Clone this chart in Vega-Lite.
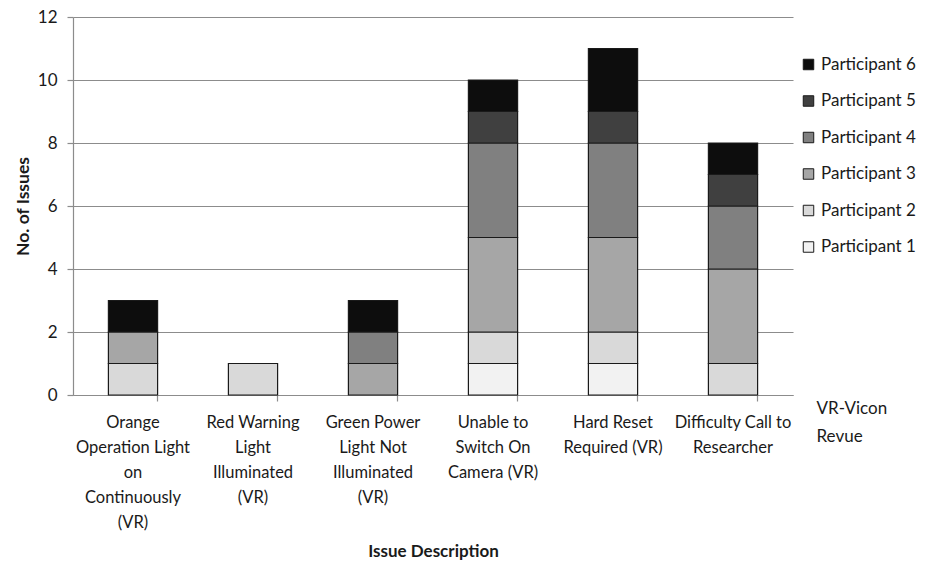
{
  "$schema": "https://vega.github.io/schema/vega-lite/v6.json",
  "autosize": {"type": "none"},
  "width": 720,
  "height": 378,
  "padding": {"left": 73, "top": 17, "right": 145, "bottom": 178},
  "background": "white",
  "config": {
    "font": "Lato",
    "view": {"stroke": null},
    "axis": {"labelColor": "#1a1a1a", "titleColor": "#1a1a1a", "labelFont": "Lato", "titleFont": "Lato"},
    "legend": {"labelFont": "Lato", "labelColor": "#1a1a1a"}
  },
  "data": {
    "values": [
      {"issue": "Orange|Operation Light|on|Continuously|(VR)", "participant": "Participant 2", "count": 1},
      {"issue": "Orange|Operation Light|on|Continuously|(VR)", "participant": "Participant 3", "count": 1},
      {"issue": "Orange|Operation Light|on|Continuously|(VR)", "participant": "Participant 6", "count": 1},
      {"issue": "Red Warning|Light|Illuminated|(VR)", "participant": "Participant 2", "count": 1},
      {"issue": "Green Power|Light Not|Illuminated|(VR)", "participant": "Participant 3", "count": 1},
      {"issue": "Green Power|Light Not|Illuminated|(VR)", "participant": "Participant 4", "count": 1},
      {"issue": "Green Power|Light Not|Illuminated|(VR)", "participant": "Participant 6", "count": 1},
      {"issue": "Unable to|Switch On|Camera (VR)", "participant": "Participant 1", "count": 1},
      {"issue": "Unable to|Switch On|Camera (VR)", "participant": "Participant 2", "count": 1},
      {"issue": "Unable to|Switch On|Camera (VR)", "participant": "Participant 3", "count": 3},
      {"issue": "Unable to|Switch On|Camera (VR)", "participant": "Participant 4", "count": 3},
      {"issue": "Unable to|Switch On|Camera (VR)", "participant": "Participant 5", "count": 1},
      {"issue": "Unable to|Switch On|Camera (VR)", "participant": "Participant 6", "count": 1},
      {"issue": "Hard Reset|Required (VR)", "participant": "Participant 1", "count": 1},
      {"issue": "Hard Reset|Required (VR)", "participant": "Participant 2", "count": 1},
      {"issue": "Hard Reset|Required (VR)", "participant": "Participant 3", "count": 3},
      {"issue": "Hard Reset|Required (VR)", "participant": "Participant 4", "count": 3},
      {"issue": "Hard Reset|Required (VR)", "participant": "Participant 5", "count": 1},
      {"issue": "Hard Reset|Required (VR)", "participant": "Participant 6", "count": 2},
      {"issue": "Difficulty Call to|Researcher", "participant": "Participant 2", "count": 1},
      {"issue": "Difficulty Call to|Researcher", "participant": "Participant 3", "count": 3},
      {"issue": "Difficulty Call to|Researcher", "participant": "Participant 4", "count": 2},
      {"issue": "Difficulty Call to|Researcher", "participant": "Participant 5", "count": 1},
      {"issue": "Difficulty Call to|Researcher", "participant": "Participant 6", "count": 1}
    ]
  },
  "layer": [
    {
      "mark": {"type": "bar", "stroke": "#1a1a1a", "strokeWidth": 1.2},
      "encoding": {
        "x": {
          "field": "issue", "type": "nominal", "sort": null,
          "scale": {"paddingInner": 0.59, "paddingOuter": 0.295},
          "axis": {
            "orient": "bottom",
            "labelExpr": "split(datum.label, '|')",
            "labelAngle": 0, "labelFontSize": 16.5, "labelLineHeight": 25, "labelPadding": 19,
            "labelBaseline": "top", "labelLimit": 200,
            "ticks": false, "domainColor": "#8c8c8c", "domainWidth": 1.2,
            "title": "Issue Description", "titleFontSize": 17, "titleFontWeight": "bold", "titlePadding": 13
          }
        },
        "y": {
          "field": "count", "type": "quantitative", "stack": "zero",
          "scale": {"domain": [0, 12], "nice": false},
          "axis": {
            "values": [0, 2, 4, 6, 8, 10, 12],
            "labelFontSize": 17, "labelPadding": 10,
            "tickSize": 6, "tickColor": "#8c8c8c", "tickWidth": 1.2,
            "gridColor": "#8c8c8c", "gridWidth": 1.2,
            "domainColor": "#8c8c8c", "domainWidth": 1.2,
            "title": "No. of Issues", "titleFontSize": 17.5, "titleFontWeight": "bold", "titlePadding": 5
          }
        },
        "color": {
          "field": "participant", "type": "nominal",
          "sort": "descending",
          "scale": {
            "domain": ["Participant 6", "Participant 5", "Participant 4", "Participant 3", "Participant 2", "Participant 1"],
            "range": ["#0d0d0d", "#404040", "#808080", "#a6a6a6", "#d9d9d9", "#f2f2f2"]
          },
          "legend": {
            "title": null, "orient": "none", "legendX": 727, "legendY": 39,
            "symbolType": "square", "symbolSize": 110, "symbolStrokeColor": "#1a1a1a", "symbolStrokeWidth": 1,
            "labelFontSize": 17, "labelOffset": 4, "rowPadding": 18.5
          }
        },
        "order": {"field": "participant", "sort": "ascending"}
      }
    },
    {
      "mark": {"type": "bar", "opacity": 0},
      "encoding": {
        "x": {
          "field": "issue", "type": "nominal", "sort": null,
          "axis": {
            "orient": "bottom",
            "labels": false, "domain": false, "ticks": true, "bandPosition": 1,
            "tickSize": 6, "tickColor": "#8c8c8c", "tickWidth": 1.2,
            "title": ["VR-Vicon", "Revue"], "titleFontSize": 17, "titleFontWeight": "normal",
            "titleAnchor": "start", "titleAlign": "left", "titleBaseline": "top",
            "titleX": 743, "titleY": 5, "titleLineHeight": 28
          }
        }
      }
    }
  ],
  "resolve": {"axis": {"x": "independent"}}
}
